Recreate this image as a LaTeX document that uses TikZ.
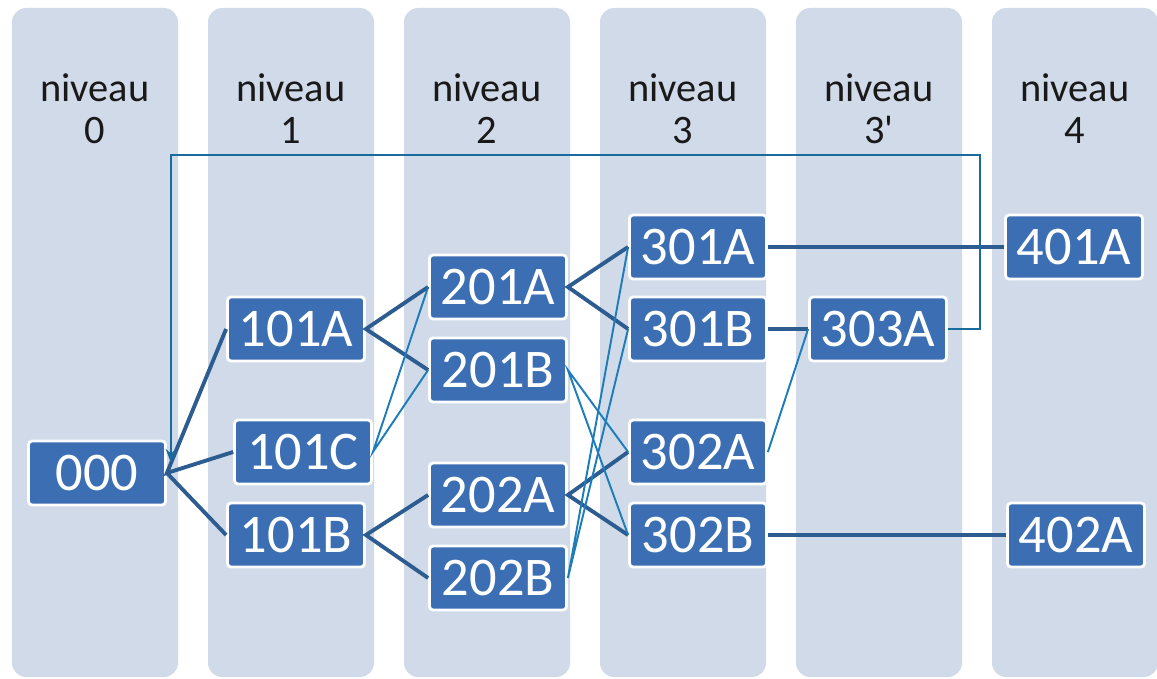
\documentclass[tikz,border=0pt]{standalone}
\usepackage{fontspec}
\newfontfamily\labelfont{Carlito}
\usepackage{tikz}
\usetikzlibrary{calc}
\usetikzlibrary{positioning}
\usetikzlibrary{arrows}
\usetikzlibrary{arrows.meta}
\tikzset{every picture/.style={semithick, >=stealth'}}
\definecolor{levelBlue}{RGB}{208,218,232}
\definecolor{boxBlue}{RGB}{60,110,180}
\definecolor{linkDark}{RGB}{45,92,145}
\definecolor{linkLight}{RGB}{30,125,185}

\begin{document}
\begin{tikzpicture}[x=0.02cm,y=-0.02cm,
                    level/.style={fill=levelBlue,rounded corners=8pt},
                    head/.style={font=\labelfont\fontsize{23}{24}\selectfont,text=black!90,align=center},
                    box/.style={fill=boxBlue,draw=white,line width=1.6pt,rounded corners=2pt,
                                minimum width=2.74cm,minimum height=1.28cm,inner sep=0pt,
                                text=white,font=\labelfont\fontsize{31}{31}\selectfont},
                    thick link/.style={draw=linkDark,line width=2.2pt},
                    thin link/.style={draw=linkLight,line width=1.1pt},
                    loop link/.style={draw=linkLight!85!black,line width=1.3pt}]
                    \useasboundingbox (0,0) rectangle (1157,679);
                    % levels
                    \foreach \i/\lab in {0/0,1/1,2/2,3/3,4/3',5/4} {
                        \fill[level] (12+196*\i,8) rectangle (178+196*\i,677);
                        \node[head] (h\i) at (95+196*\i,109) {niveau\\\lab};
                    }
                    % nodes
                    \node[box] (000) at (97,473) {000};
                    \node[box] (101A) at (296,329) {101A};
                    \node[box] (101C) at (303,452) {101C};
                    \node[box] (101B) at (296,535) {101B};
                    \node[box] (201A) at (498,287) {201A};
                    \node[box] (201B) at (498,370) {201B};
                    \node[box] (202A) at (498,495) {202A};
                    \node[box] (202B) at (498,578) {202B};
                    \node[box] (301A) at (698,247) {301A};
                    \node[box] (301B) at (698,329) {301B};
                    \node[box] (302A) at (698,452) {302A};
                    \node[box] (302B) at (698,535) {302B};
                    \node[box] (303A) at (878,329) {303A};
                    \node[box] (401A) at (1074,247) {401A};
                    \node[box] (402A) at (1076,535) {402A};
                    % links
                    \draw[thick link] (101A.west) -- (000.east) -- (101C.west);
                    \draw[thick link] (000.east) -- (101B.west);
                    \draw[thick link] (201A.west) -- (101A.east) -- (201B.west);
                    \draw[thick link] (202A.west) -- (101B.east) -- (202B.west);
                    \draw[thick link] (301A.west) -- (201A.east) -- (301B.west);
                    \draw[thick link] (302A.west) -- (202A.east) -- (302B.west);
                    \draw[thick link] (301A.east) -- (401A.west);
                    \draw[thick link] (301B.east) -- (303A.west);
                    \draw[thick link] (302B.east) -- (402A.west);
                    \draw[thin link] (201A.west) -- (101C.east) -- (201B.west);
                    \draw[thin link] (302A.west) -- (201B.east) -- (302B.west);
                    \draw[thin link] (301A.west) -- (202B.east) -- (301B.west);
                    \draw[thin link] (302A.east) -- (303A.west);
                    % back to the start
                    \coordinate (turn) at (980,155);
                    \coordinate (back) at (171,463);
                    \draw[loop link,-{Stealth[length=8pt,width=6pt]}] (303A.east) -| (turn) -| (back);
                \end{tikzpicture}
\end{document}
